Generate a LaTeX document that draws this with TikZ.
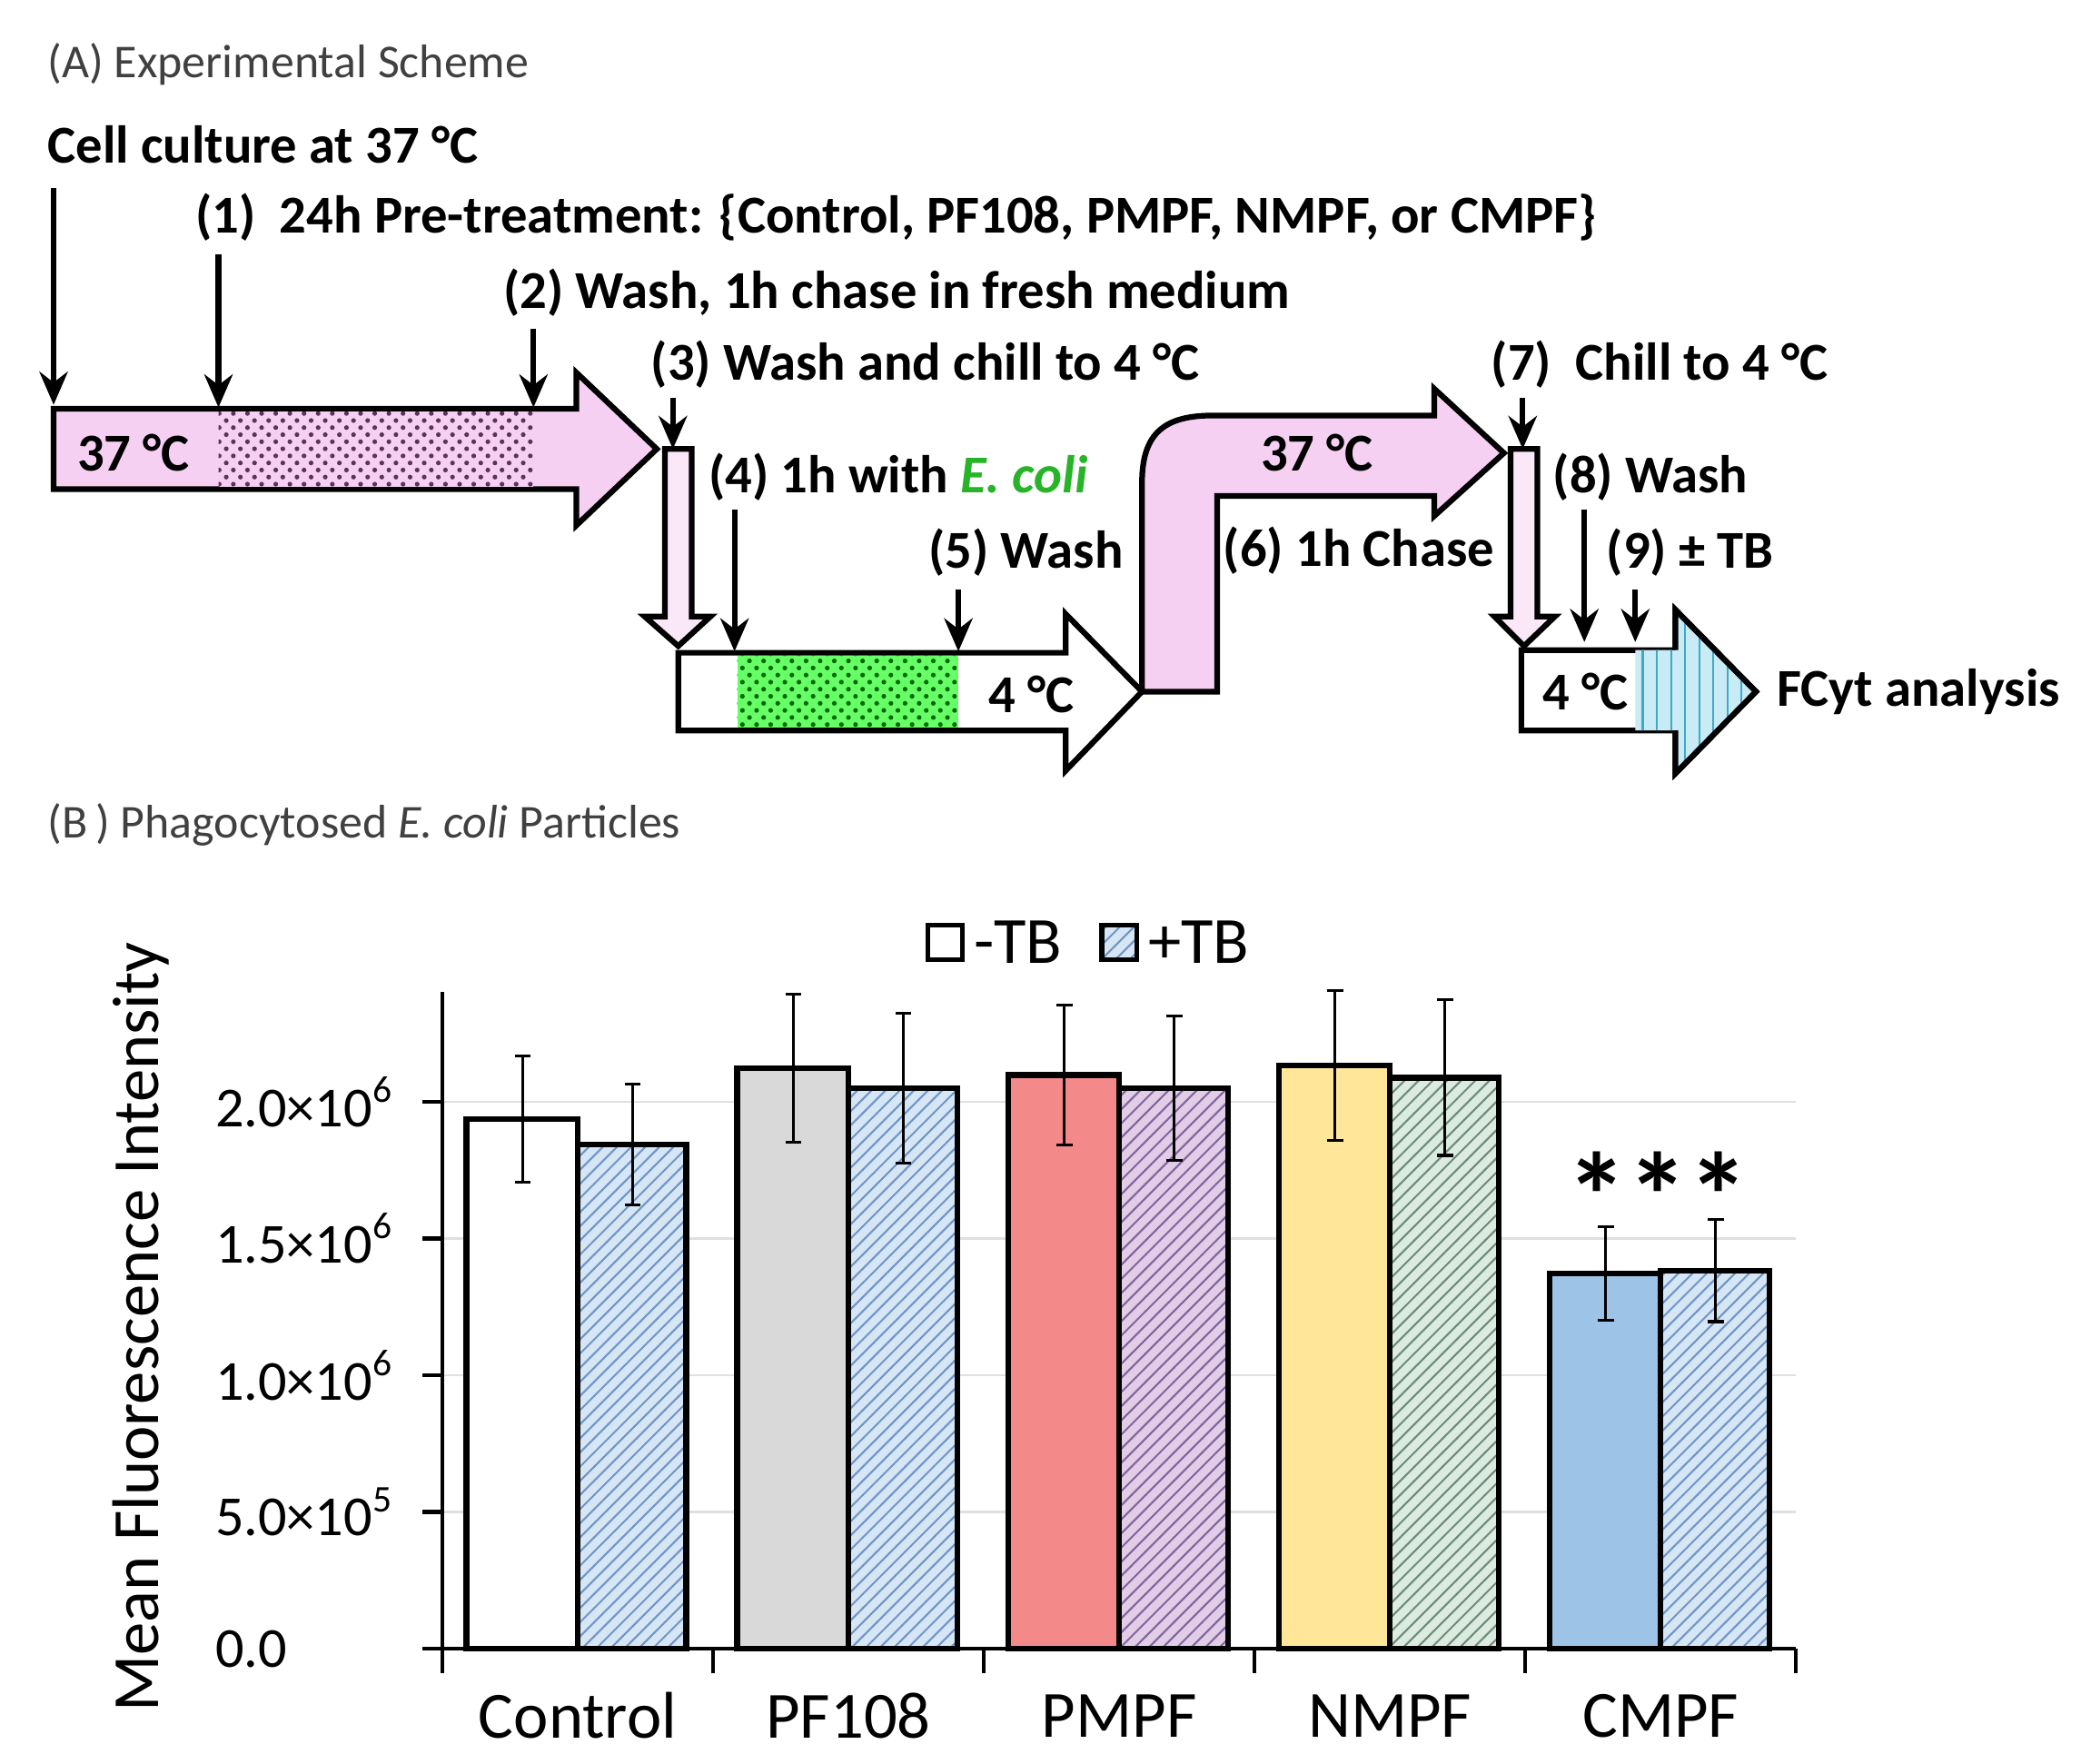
\documentclass[tikz,border=0pt]{standalone}
\usepackage{fontspec}
\setmainfont{Carlito}
\usetikzlibrary{arrows.meta,patterns}
\definecolor{pk}{RGB}{246,208,242}
\definecolor{dpur}{RGB}{90,50,90}
\definecolor{ecoli}{RGB}{40,180,40}
\definecolor{stripe}{RGB}{60,170,200}
\definecolor{lcy}{RGB}{200,235,245}
\definecolor{hblue}{RGB}{110,150,200}
\definecolor{lblue}{RGB}{215,230,245}
\definecolor{hpur}{RGB}{130,100,160}
\definecolor{lpur}{RGB}{225,205,230}
\definecolor{hgrn}{RGB}{110,140,120}
\definecolor{lgrn}{RGB}{220,235,225}
\definecolor{cgray}{RGB}{217,217,217}
\definecolor{cred}{RGB}{244,137,138}
\definecolor{cyel}{RGB}{255,230,153}
\definecolor{cbl}{RGB}{157,195,230}
\tikzset{
 lab/.style={anchor=west,inner sep=0pt,font=\fontsize{11.3}{13}\selectfont\bfseries},
 hdr/.style={anchor=west,inner sep=0pt,font=\fontsize{10}{12}\selectfont,text=black!75},
 darr/.style={line width=1.2pt,-{Stealth[length=7pt,width=6pt]}},
 box/.style={draw,line width=1.2pt,line join=miter},
 ylab/.style={anchor=west,inner sep=0pt,font=\fontsize{12}{14}\selectfont},
 cat/.style={inner sep=0pt,font=\fontsize{14}{16}\selectfont},
 ebar/.style={line width=0.6pt}
}
\newcommand{\sexp}[1]{\raisebox{0.9ex}{\fontsize{8}{9}\selectfont #1}}
\begin{document}
\begin{tikzpicture}[x=0.01cm,y=-0.01cm]
\useasboundingbox (0,0) rectangle (1560,1316);
% ---------- Part A
\node[hdr] (ha) at (35,48) {(A) Experimental Scheme};
\node[lab] (cc) at (35,108) {Cell culture at 37 °C};
\node[lab] (l1) at (145,162) {(1)\ \ 24h Pre-treatment: \{Control, PF108, PMPF, NMPF, or CMPF\}};
\node[lab] (l2) at (375,218) {(2) Wash, 1h chase in fresh medium};
\node[lab] (l3) at (485,272) {(3) Wash and chill to 4 °C};
\node[lab] (l4) at (528,356) {(4) 1h with \textcolor{ecoli}{\itshape E. coli}};
\node[lab] (l5) at (692,412) {(5) Wash};
\node[lab] (l6) at (912,411) {(6) 1h Chase};
\node[lab] (l7) at (1112,272) {(7)\ \ Chill to 4 °C};
\node[lab] (l8) at (1158,356) {(8) Wash};
\node[lab] (l9) at (1198,412) {(9) ± TB};
% arrow 1
\draw[box,fill=pk] (40,305) -- (430,305) -- (430,278) -- (490,335) -- (430,392) -- (430,365) -- (40,365) -- cycle;
\fill[pk] (163,307) rectangle (398,363);
\fill[pattern=crosshatch dots,pattern color=dpur] (163,307) rectangle (398,363);
\node[lab] (t1) at (57,338) {37 °C};
% vertical arrow 1
\draw[box,fill=pk!50] (496,335) -- (516,335) -- (516,460) -- (530,460) -- (506,482) -- (481,460) -- (496,460) -- cycle;
% arrow 2
\draw[box,fill=white] (506,487) -- (795,487) -- (795,458) -- (852,516) -- (795,575) -- (795,545) -- (506,545) -- cycle;
\fill[green!60] (550,489) rectangle (715,543);
\fill[pattern=crosshatch dots,pattern color=green!40!black] (550,489) rectangle (715,543);
\node[lab] (t2) at (737,518) {4 °C};
% bent arrow
\draw[box,fill=pk] (852,516) -- (852,360) .. controls (852,322) and (870,310) .. (905,310) -- (1070,310) -- (1070,290) -- (1122,338) -- (1070,385) -- (1070,370) -- (908,370) -- (908,516) -- cycle;
\node[lab] (t3) at (940,338) {37 °C};
% vertical arrow 2
\draw[box,fill=pk!50] (1127,335) -- (1147,335) -- (1147,460) -- (1160,460) -- (1137,482) -- (1115,460) -- (1127,460) -- cycle;
% arrow 3
\draw[box,fill=white] (1135,485) -- (1250,485) -- (1250,455) -- (1310,516) -- (1250,577) -- (1250,545) -- (1135,545) -- cycle;
\begin{scope}
\clip (1220,485) -- (1250,485) -- (1250,455) -- (1310,516) -- (1250,577) -- (1250,545) -- (1220,545) -- cycle;
\fill[lcy] (1220,450) rectangle (1312,580);
\fill[pattern=vertical lines,pattern color=stripe] (1220,450) rectangle (1312,580);
\end{scope}
\draw[box] (1250,485) -- (1250,455) -- (1310,516) -- (1250,577) -- (1250,545);
\node[lab] (t4) at (1150,516) {4 °C};
\node[lab] (fc) at (1325,516) {FCyt analysis};
% drop arrows
\draw[darr] (40,140) -- (40,302);
\draw[darr] (163,190) -- (163,304);
\draw[darr] (398,245) -- (398,304);
\draw[darr] (502,297) -- (502,335);
\draw[darr] (548,380) -- (548,486);
\draw[darr] (715,440) -- (715,486);
\draw[darr] (1136,297) -- (1136,335);
\draw[darr] (1182,380) -- (1182,479);
\draw[darr] (1220,440) -- (1220,479);
% ---------- Part B
\node[hdr] (hb) at (35,615) {(B\,) Phagocytosed \textit{E. coli} Particles};
% grid
\foreach \v in {822,924,1026,1128}
  \draw[black!12,line width=0.5pt] (330,\v) -- (1340,\v);
\draw[line width=0.8pt] (330,740) -- (330,1230);
\draw[line width=0.8pt] (315,1230) -- (1340,1230);
\foreach \xx in {330,532,734,936,1138,1340}
  \draw[line width=0.8pt] (\xx,1230) -- (\xx,1248);
\foreach \v/\t in {1230/{0.0},1128/{5.0×10\sexp{5}},1026/{1.0×10\sexp{6}},924/{1.5×10\sexp{6}},822/{2.0×10\sexp{6}}}{
  \draw[line width=0.8pt] (315,\v) -- (330,\v);
  \node[ylab] at (160,\v) {\t};}
\node[rotate=90,font=\fontsize{14}{16}\selectfont,inner sep=0pt] (yt) at (105,990) {Mean Fluorescence Intensity};
% bars
\foreach \c/\col/\hc/\hl/\a/\ea/\b/\eb/\name in {
 431/white/hblue/lblue/835/47/854/45/Control,
 633/cgray/hblue/lblue/797/55/812/56/PF108,
 835/cred/hpur/lpur/802/52/812/54/PMPF,
 1037/cyel/hgrn/lgrn/795/56/804/58/NMPF,
 1239/cbl/hblue/lblue/950/35/948/38/CMPF}{
  \draw[box,fill=\col] (\c-83,1230) rectangle (\c,\a);
  \fill[\hl] (\c,1230) rectangle (\c+81,\b);
  \fill[pattern=north east lines,pattern color=\hc] (\c,1230) rectangle (\c+81,\b);
  \draw[box] (\c,1230) rectangle (\c+81,\b);
  \draw[ebar] (\c-41,\a-\ea) -- (\c-41,\a+\ea) (\c-47,\a-\ea) -- (\c-35,\a-\ea) (\c-47,\a+\ea) -- (\c-35,\a+\ea);
  \draw[ebar] (\c+41,\b-\eb) -- (\c+41,\b+\eb) (\c+35,\b-\eb) -- (\c+47,\b-\eb) (\c+35,\b+\eb) -- (\c+47,\b+\eb);
  \node[cat] at (\c,1280) {\name};
}
\node[font=\fontsize{26}{28}\selectfont\bfseries,inner sep=0pt] (st) at (1237,892) {***};
% legend
\draw[line width=1pt,fill=white] (692,690) rectangle (718,716);
\node[anchor=west,inner sep=0pt,font=\fontsize{14}{16}\selectfont] (lg1) at (726,703) {-TB};
\fill[lblue] (822,690) rectangle (848,716);
\fill[pattern=north east lines,pattern color=hblue] (822,690) rectangle (848,716);
\draw[line width=1pt] (822,690) rectangle (848,716);
\node[anchor=west,inner sep=0pt,font=\fontsize{14}{16}\selectfont] (lg2) at (856,703) {+TB};
\end{tikzpicture}
\end{document}
